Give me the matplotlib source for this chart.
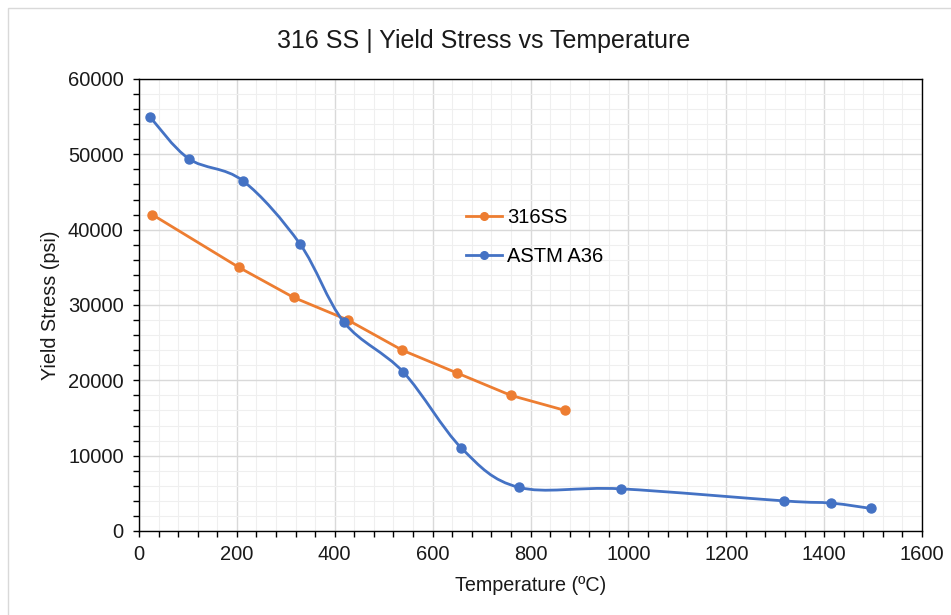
import matplotlib
matplotlib.use("Agg")
import matplotlib.pyplot as plt
from matplotlib.path import Path
from matplotlib.patches import PathPatch, Rectangle
from matplotlib.lines import Line2D
from matplotlib.ticker import MultipleLocator
import numpy as np

plt.rcParams['font.family'] = ['Liberation Sans', 'DejaVu Sans']

title = "316 SS | Yield Stress vs Temperature"
xlabel = "Temperature (ºC)"
ylabel = "Yield Stress (psi)"

ss316_temp = [27, 204, 316, 427, 538, 649, 760, 871]
ss316_stress = [42000, 35000, 31000, 28000, 24000, 21000, 18000, 16000]

a36_temp = [22, 102, 212, 329, 419, 540, 659, 776, 984, 1317, 1415, 1495]
a36_stress = [55000, 49400, 46500, 38100, 27700, 21100, 11000, 5800, 5600, 4000, 3700, 3000]

ORANGE = '#ED7D31'
BLUE = '#4472C4'

def smooth_path(xs, ys):
    P = np.column_stack([xs, ys]).astype(float)
    n = len(P)
    verts = [P[0]]
    codes = [Path.MOVETO]
    for i in range(n - 1):
        p0 = P[i - 1] if i > 0 else P[i]
        p1 = P[i]
        p2 = P[i + 1]
        p3 = P[i + 2] if i + 2 < n else P[i + 1]
        c1 = p1 + (p2 - p0) / 6.0
        c2 = p2 - (p3 - p1) / 6.0
        verts += [c1, c2, p2]
        codes += [Path.CURVE4] * 3
    return Path(verts, codes)

fig = plt.figure(figsize=(9.51, 6.15), dpi=100)
fig.patches.append(Rectangle((8 / 951, -0.1), 1.2, 1 - 8 / 615 + 0.1,
                             transform=fig.transFigure, fill=False,
                             edgecolor='#d9d9d9', linewidth=1.0))
ax = fig.add_axes([139 / 951, 1 - 531 / 615, (922 - 139) / 951, (531 - 79) / 615])

ax.set_xlim(0, 1600)
ax.set_ylim(0, 60000)
ax.xaxis.set_major_locator(MultipleLocator(200))
ax.xaxis.set_minor_locator(MultipleLocator(40))
ax.yaxis.set_major_locator(MultipleLocator(10000))
ax.yaxis.set_minor_locator(MultipleLocator(2000))
ax.grid(which='major', color='#d9d9d9', linewidth=1.0)
ax.grid(which='minor', color='#efefef', linewidth=0.8)
ax.set_axisbelow(True)

for sp in ax.spines.values():
    sp.set_color('black')
    sp.set_linewidth(1.0)

ax.tick_params(which='major', direction='out', length=4, width=1, colors='black',
               labelsize=14.5, labelcolor='#1a1a1a', pad=6)
ax.tick_params(which='minor', direction='out', length=4, width=1, colors='black')
ax.tick_params(axis='y', which='major', pad=7)

# 316SS straight lines
ax.plot(ss316_temp, ss316_stress, color=ORANGE, linewidth=2.0, marker='o',
        markersize=6.5, zorder=3)
# ASTM A36 smooth
ax.add_patch(PathPatch(smooth_path(a36_temp, a36_stress), facecolor='none',
                       edgecolor=BLUE, linewidth=2.0, zorder=3))
ax.plot(a36_temp, a36_stress, linestyle='none', color=BLUE, marker='o',
        markersize=6.5, zorder=4)

handles = [Line2D([], [], color=ORANGE, linewidth=2.0, marker='o', markersize=5.5),
           Line2D([], [], color=BLUE, linewidth=2.0, marker='o', markersize=5.5)]
ax.legend(handles, ['316SS', 'ASTM A36'], loc='upper left',
          bbox_to_anchor=((458 - 139) / 783, (531 - 200) / 452),
          frameon=False, fontsize=14.5, handlelength=1.8, handletextpad=0.25,
          labelspacing=1.0, borderaxespad=0)

ax.set_xlabel(xlabel, fontsize=14.2, color='#1a1a1a', labelpad=9)
ax.set_ylabel(ylabel, fontsize=14.2, color='#1a1a1a', labelpad=6)
fig.text(484 / 951, 1 - 41 / 615, title, ha='center', va='center',
         fontsize=18, color='#1a1a1a')

fig.savefig('out.png', dpi=100)
